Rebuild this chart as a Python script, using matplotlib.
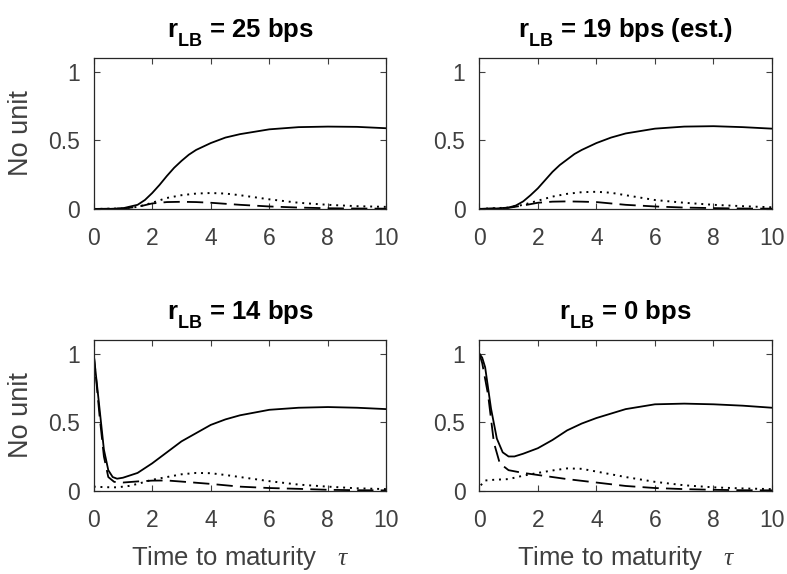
import matplotlib
matplotlib.use("Agg")
import matplotlib.pyplot as plt

plt.rcParams["font.family"] = ["Liberation Sans", "DejaVu Sans"]
plt.rcParams["mathtext.fontset"] = "custom"
plt.rcParams["mathtext.rm"] = "Liberation Sans"
plt.rcParams["mathtext.bf"] = "Liberation Sans:bold"
plt.rcParams["mathtext.it"] = "Liberation Serif:italic"

# push subscripts lower, like the MATLAB tex interpreter
try:
    from matplotlib import _mathtext
    _mathtext.FontConstantsBase.sub1 = 0.75
    _mathtext.FontConstantsBase.sub2 = 0.9
except Exception:
    pass

titles = [r"r$_{\mathbf{LB}}$ = 25 bps", r"r$_{\mathbf{LB}}$ = 19 bps (est.)",
          r"r$_{\mathbf{LB}}$ = 14 bps", r"r$_{\mathbf{LB}}$ = 0 bps"]

# panel 1: r_LB = 25 bps
x_solid_1 = [0, 0.5, 1, 1.5, 1.75, 2, 2.25, 2.5, 2.75, 3, 3.25, 3.5, 4, 4.5, 5, 6, 7, 8, 9, 10]
y_solid_1 = [0, 0, 0.005, 0.03, 0.065, 0.116, 0.175, 0.24, 0.30, 0.35, 0.395, 0.43, 0.48, 0.52, 0.545, 0.58, 0.596, 0.60, 0.598, 0.588]
x_dot_1 = [0, 1, 1.5, 2, 2.5, 3, 3.5, 4, 4.5, 5, 6, 7, 8, 9, 10]
y_dot_1 = [0, 0.003, 0.015, 0.045, 0.08, 0.10, 0.112, 0.116, 0.112, 0.10, 0.07, 0.045, 0.03, 0.02, 0.015]
x_dash_1 = [0, 1, 1.5, 2, 2.5, 3, 3.5, 4, 5, 6, 7, 8, 9, 10]
y_dash_1 = [0, 0.003, 0.015, 0.04, 0.05, 0.052, 0.05, 0.045, 0.03, 0.018, 0.01, 0.005, 0.003, 0.002]

# panel 2: r_LB = 19 bps (est.)
x_solid_2 = [0, 0.5, 1, 1.25, 1.5, 1.75, 2, 2.25, 2.5, 2.75, 3, 3.25, 3.5, 4, 4.5, 5, 6, 7, 8, 9, 10]
y_solid_2 = [0, 0.002, 0.01, 0.025, 0.055, 0.1, 0.15, 0.21, 0.27, 0.32, 0.36, 0.40, 0.43, 0.48, 0.52, 0.55, 0.585, 0.60, 0.603, 0.596, 0.585]
x_dot_2 = [0, 1, 1.5, 2, 2.5, 3, 3.5, 4, 4.5, 5, 6, 7, 8, 9, 10]
y_dot_2 = [0, 0.01, 0.03, 0.06, 0.09, 0.11, 0.122, 0.125, 0.118, 0.10, 0.065, 0.045, 0.03, 0.02, 0.012]
x_dash_2 = [0, 1, 1.5, 2, 2.5, 3, 3.5, 4, 5, 6, 7, 8, 9, 10]
y_dash_2 = [0, 0.008, 0.025, 0.045, 0.053, 0.055, 0.053, 0.05, 0.03, 0.018, 0.01, 0.006, 0.003, 0.002]

# panel 3: r_LB = 14 bps
x_solid_3 = [0, 0.1, 0.2, 0.35, 0.5, 0.65, 0.8, 1, 1.5, 2, 2.5, 3, 3.5, 4, 4.5, 5, 6, 7, 8, 9, 10]
y_solid_3 = [1.0, 0.8, 0.6, 0.3, 0.15, 0.1, 0.088, 0.095, 0.13, 0.2, 0.28, 0.36, 0.42, 0.48, 0.52, 0.55, 0.59, 0.605, 0.61, 0.605, 0.595]
x_dash_3 = [0, 0.1, 0.2, 0.35, 0.5, 0.7, 1, 1.5, 2, 2.5, 3, 4, 5, 6, 7, 8, 9, 10]
y_dash_3 = [1.0, 0.78, 0.55, 0.25, 0.1, 0.065, 0.06, 0.068, 0.074, 0.075, 0.067, 0.05, 0.03, 0.02, 0.014, 0.007, 0.004, 0.003]
x_dot_3 = [0, 0.4, 0.8, 1.2, 1.5, 2, 2.5, 3, 3.5, 4, 4.5, 5, 6, 7, 8, 9, 10]
y_dot_3 = [0.03, 0.026, 0.025, 0.035, 0.05, 0.08, 0.1, 0.12, 0.13, 0.128, 0.115, 0.1, 0.07, 0.045, 0.03, 0.018, 0.012]

# panel 4: r_LB = 0 bps
x_solid_4 = [0, 0.1, 0.2, 0.4, 0.6, 0.8, 1, 1.2, 1.5, 2, 2.5, 3, 3.5, 4, 5, 6, 7, 8, 9, 10]
y_solid_4 = [1.0, 0.97, 0.9, 0.6, 0.38, 0.28, 0.25, 0.25, 0.27, 0.31, 0.37, 0.44, 0.49, 0.53, 0.595, 0.63, 0.635, 0.63, 0.62, 0.605]
x_dash_4 = [0, 0.1, 0.3, 0.5, 0.7, 1, 1.5, 2, 3, 4, 5, 6, 7, 8, 9, 10]
y_dash_4 = [1.0, 0.93, 0.7, 0.35, 0.2, 0.15, 0.13, 0.115, 0.085, 0.06, 0.035, 0.02, 0.012, 0.007, 0.004, 0.003]
x_dot_4 = [0.05, 0.2, 0.5, 1, 1.5, 2, 2.5, 3, 3.5, 4, 5, 6, 7, 8, 9, 10]
y_dot_4 = [0.04, 0.075, 0.08, 0.085, 0.11, 0.13, 0.148, 0.163, 0.16, 0.14, 0.1, 0.065, 0.04, 0.025, 0.017, 0.012]

panels = [
    (x_solid_1, y_solid_1, x_dash_1, y_dash_1, x_dot_1, y_dot_1),
    (x_solid_2, y_solid_2, x_dash_2, y_dash_2, x_dot_2, y_dot_2),
    (x_solid_3, y_solid_3, x_dash_3, y_dash_3, x_dot_3, y_dot_3),
    (x_solid_4, y_solid_4, x_dash_4, y_dash_4, x_dot_4, y_dot_4),
]

fig = plt.figure(figsize=(7.87, 5.74), dpi=100)
lefts = [0.119, 0.609]
bottoms = [0.636, 0.145]
w, h = 0.372, 0.263
gray = "#404040"

for i, (xs, ys, xd, yd, xo, yo) in enumerate(panels):
    ax = fig.add_axes([lefts[i % 2], bottoms[i // 2], w, h])
    ax.plot(xs, ys, color="black", lw=1.3, ls="-")
    ax.plot(xd, yd, color="black", lw=1.3, ls=(0, (9, 4)))
    ax.plot(xo, yo, color="black", lw=1.4, ls=(0, (1, 2.5)))
    ax.set_xlim(0, 10)
    ax.set_ylim(0, 1.1)
    ax.set_xticks([0, 2, 4, 6, 8, 10])
    ax.set_yticks([0, 0.5, 1])
    ax.set_yticklabels(["0", "0.5", "1"])
    ax.tick_params(direction="in", top=True, right=True, length=4, width=0.8,
                   labelsize=16.5, colors=gray, labelcolor=gray)
    ax.tick_params(axis="x", pad=13)
    ax.tick_params(axis="y", pad=10)
    for s in ax.spines.values():
        s.set_color("#262626")
        s.set_linewidth(0.9)
    ax.set_title(titles[i], fontsize=18.5, fontweight="bold", pad=15)
    if i % 2 == 0:
        ax.set_ylabel("No unit", fontsize=19.5, color=gray, labelpad=10)
    if i // 2 == 1:
        ax.set_xlabel(r"Time to maturity   $\tau$", fontsize=18.5, color=gray, labelpad=9)

fig.savefig("out.png", dpi=100)
